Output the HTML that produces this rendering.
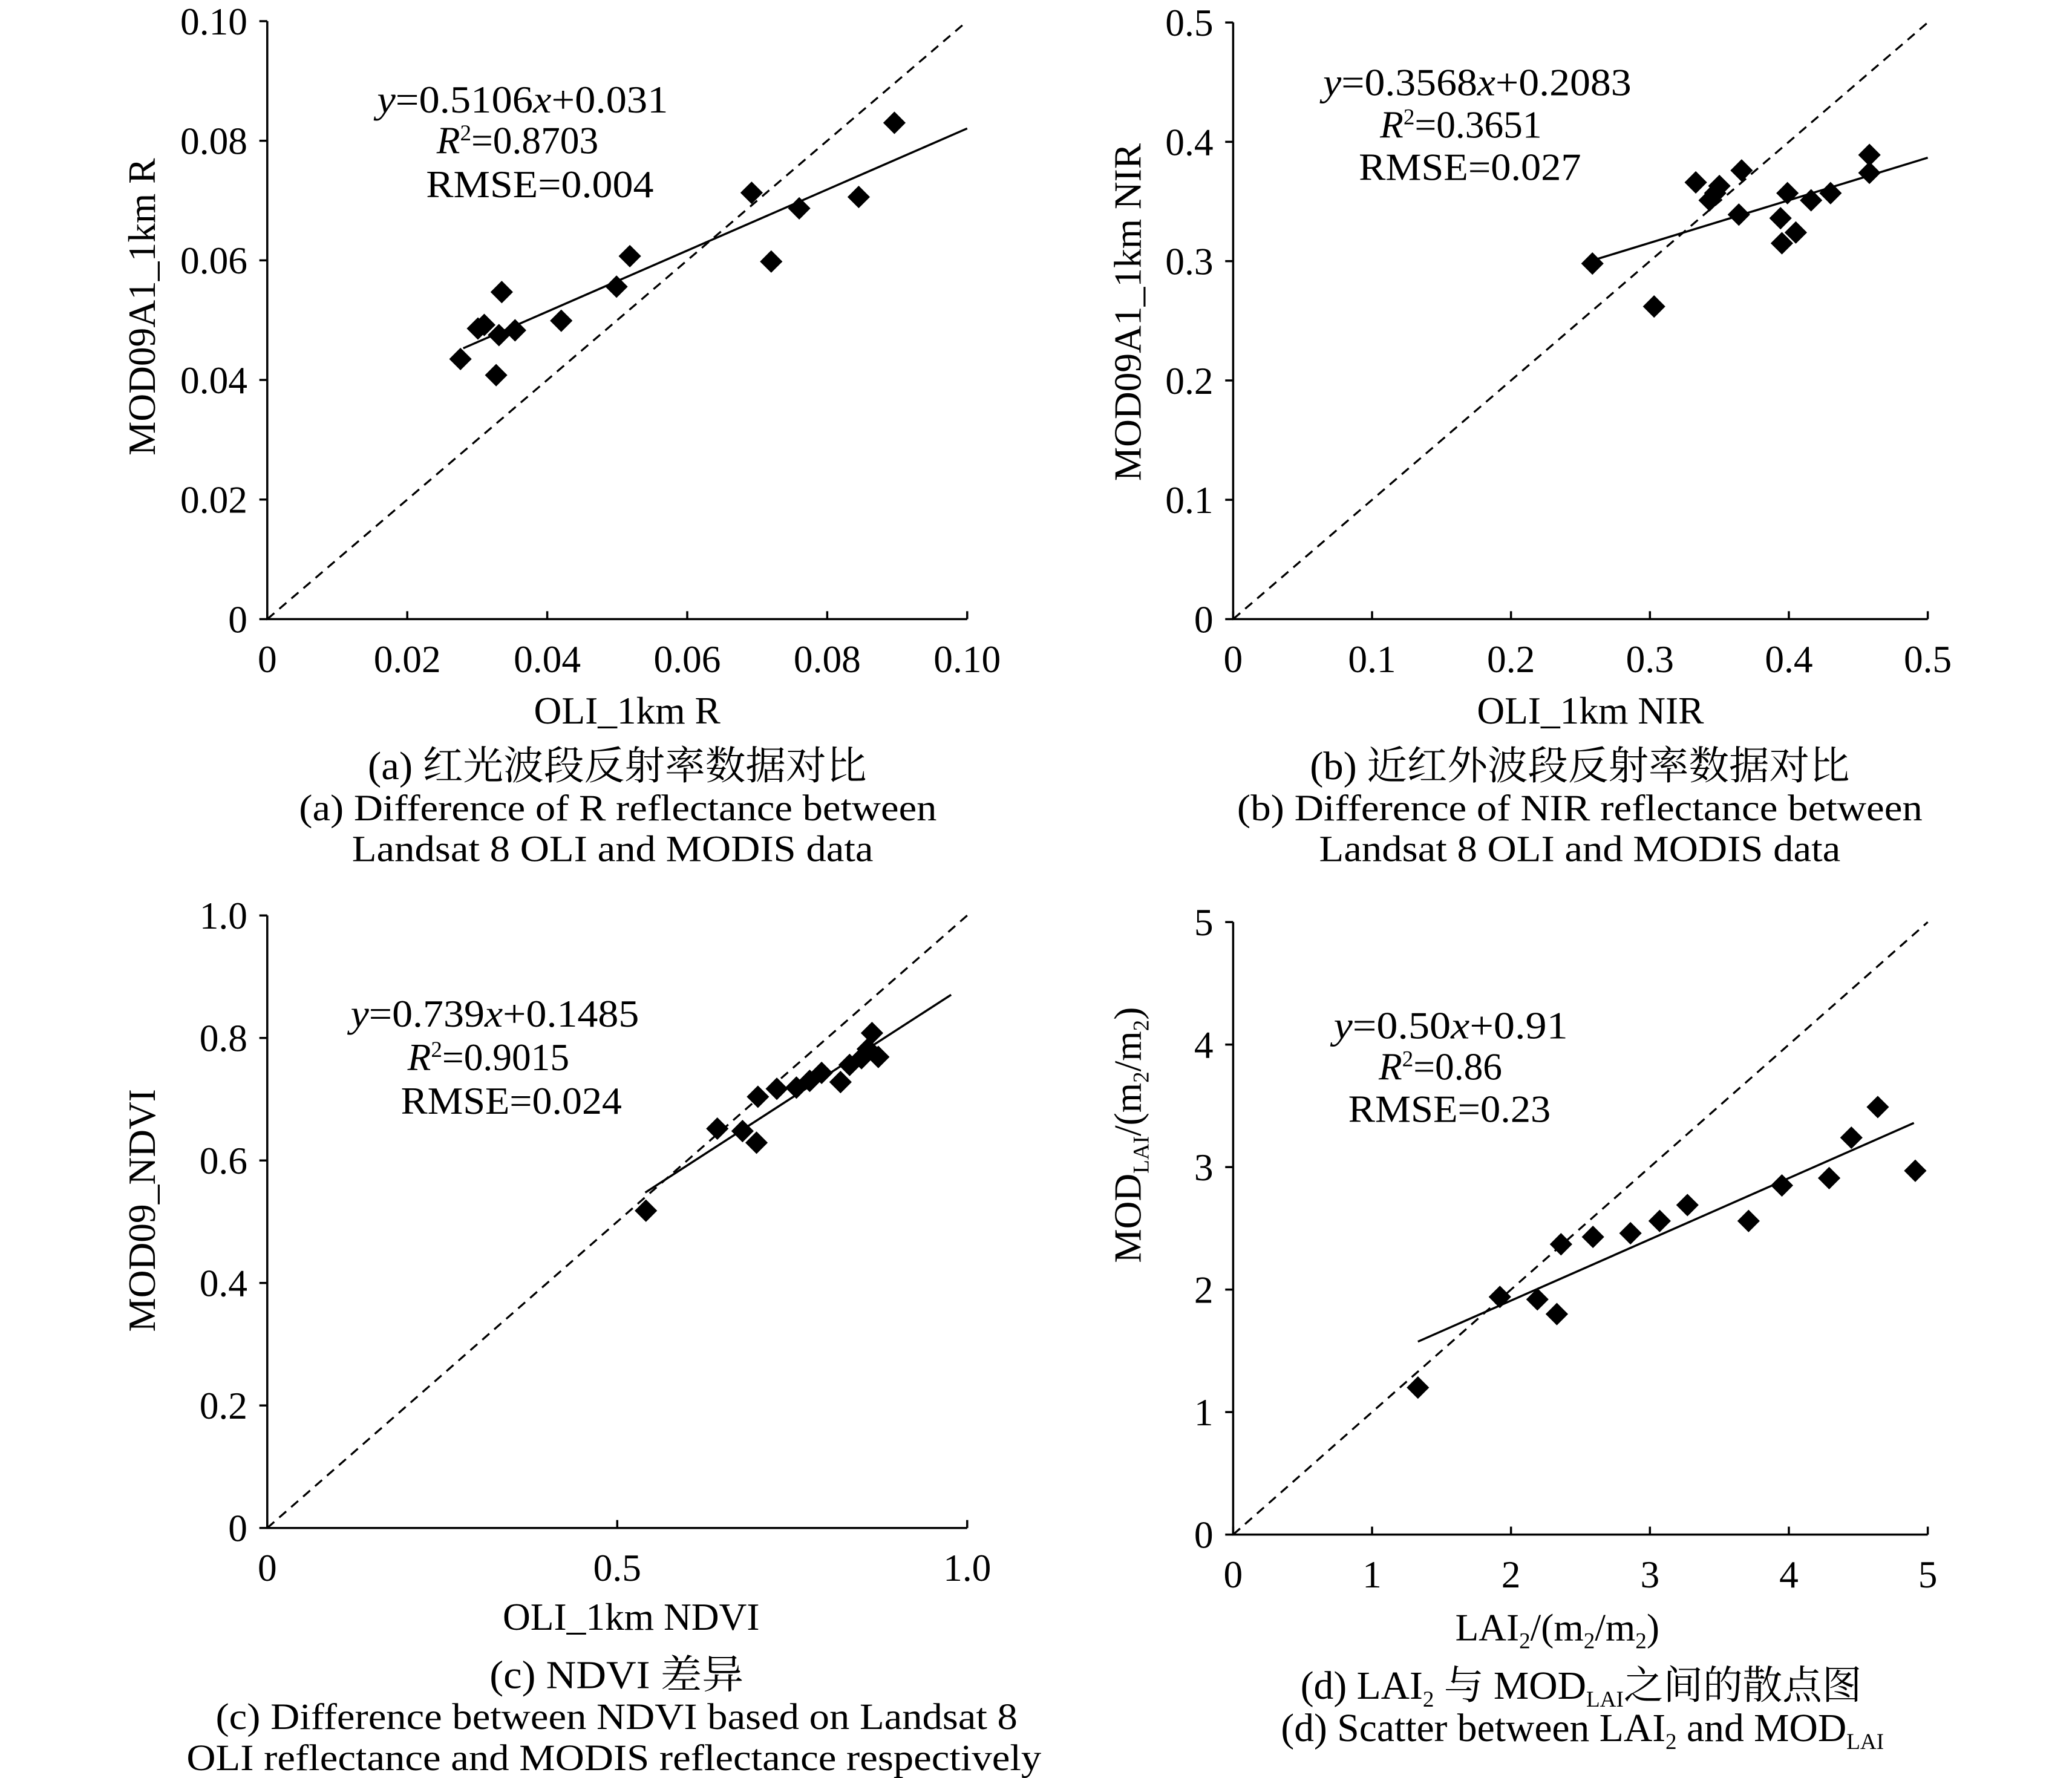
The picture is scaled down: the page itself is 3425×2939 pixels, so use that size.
<!DOCTYPE html>
<html><head><meta charset="utf-8">
<style>
html,body{margin:0;padding:0;background:#fff;}
svg{display:block;}
text{font-family:"Liberation Serif","Noto Serif CJK SC","Noto Sans CJK SC",serif;fill:#000;}
</style></head>
<body>
<svg id="fig" xmlns="http://www.w3.org/2000/svg" width="3425" height="2939" viewBox="0 0 1566 1344" preserveAspectRatio="none">
<rect width="1566" height="1344" fill="#fff"/>
</svg>
<script>
// Panel (a) data
const aX = [0.0276,0.0301,0.0310,0.0335,0.0331,0.0327,0.0354,0.0420,0.0499,0.0518,0.0692,0.0720,0.0760,0.0845,0.0896];
const aY = [0.0435,0.0486,0.0492,0.0547,0.0475,0.0408,0.0483,0.0499,0.0556,0.0607,0.0713,0.0598,0.0687,0.0706,0.0830];
const aFit = [0.5106,0.031];
const aFitRange = [0.028,0.10];
const aTicks = ["0","0.02","0.04","0.06","0.08","0.10"];
// Panel (b) data
const bX = [0.2586,0.303,0.333,0.343,0.347,0.350,0.364,0.366,0.394,0.395,0.399,0.405,0.416,0.430,0.458,0.458];
const bY = [0.298,0.262,0.366,0.351,0.357,0.363,0.339,0.376,0.336,0.315,0.357,0.324,0.351,0.357,0.374,0.389];
const bFit = [0.3568,0.2083];
const bFitRange = [0.258,0.50];
const bTicks = ["0","0.1","0.2","0.3","0.4","0.5"];
// Panel (c) data
const cX = [0.541,0.643,0.679,0.699,0.701,0.728,0.756,0.775,0.792,0.819,0.832,0.849,0.858,0.864,0.873];
const cY = [0.518,0.652,0.648,0.629,0.704,0.717,0.719,0.730,0.743,0.728,0.756,0.767,0.782,0.808,0.769];
const cFit = [0.739,0.1485];
const cFitRange = [0.54,0.977];
const cXTicks = ["0","0.5","1.0"];
const cYTicks = ["0","0.2","0.4","0.6","0.8","1.0"];
// Panel (d) data
const dX = [1.33,1.92,2.19,2.33,2.36,2.59,2.86,3.07,3.27,3.71,3.95,4.29,4.45,4.64,4.91];
const dY = [1.20,1.94,1.92,1.80,2.37,2.43,2.46,2.56,2.69,2.56,2.85,2.91,3.24,3.49,2.97];
const dFit = [0.50,0.91];
const dFitRange = [1.33,4.9];
const dTicks = ["0","1","2","3","4","5"];

const NS="http://www.w3.org/2000/svg";
const svg=document.getElementById('fig');
function mk(tag,attrs,parent){const e=document.createElementNS(NS,tag);for(const k in attrs)e.setAttribute(k,attrs[k]);(parent||svg).appendChild(e);return e;}

function panel(id,box,max,xT,yT,xs,ys,fit,fr){
  const g=mk('g',{});
  
  
  const sx=v=>box.x0+(v/max[0])*(box.x1-box.x0);
  const sy=v=>box.y0-(v/max[1])*(box.y0-box.y1);
  const ax=mk('path',{d:`M${box.x0},${box.y1} L${box.x0},${box.y0} L${box.x1},${box.y0}`,fill:'none',stroke:'#000','stroke-width':1.6},g);
  
  
  xT.forEach(t=>{const v=parseFloat(t);const x=sx(v);
    const tk=mk('line',{x1:x,x2:x,y1:box.y0,y2:box.y0-6,stroke:'#000','stroke-width':1.6},g);
    
    
    const tx=mk('text',{x:x,y:box.y0+40,'font-size':29,'text-anchor':'middle'},g);tx.textContent=t;
    
    
  });
  yT.forEach(t=>{const v=parseFloat(t);const y=sy(v);
    const tk=mk('line',{x1:box.x0-6,x2:box.x0,y1:y,y2:y,stroke:'#000','stroke-width':1.6},g);
    
    
    const tx=mk('text',{x:box.x0-15,y:y+10,'font-size':29,'text-anchor':'end'},g);tx.textContent=t;
    
    
  });
  const dl=mk('line',{x1:sx(0),y1:sy(0),x2:sx(max[0]),y2:sy(max[1]),stroke:'#000','stroke-width':1.5,'stroke-dasharray':'7,5'},g);
  
  
  const fl=mk('line',{x1:sx(fr[0]),y1:sy(fit[0]*fr[0]+fit[1]),x2:sx(fr[1]),y2:sy(fit[0]*fr[1]+fit[1]),stroke:'#000','stroke-width':1.6},g);
  
  
  xs.forEach((v,i)=>{const x=sx(v),y=sy(ys[i]);const r=8.5;
    const p=mk('path',{d:`M${x},${y-r} L${x+r},${y} L${x},${y+r} L${x-r},${y} Z`,fill:'#000'},g);
    
    
  });
}
panel('a',{x0:202,x1:731,y0:468,y1:16},[0.1,0.1],aTicks,aTicks,aX,aY,aFit,aFitRange);
panel('b',{x0:932,x1:1457,y0:468,y1:17},[0.5,0.5],bTicks,bTicks,bX,bY,bFit,bFitRange);
panel('c',{x0:202,x1:731,y0:1155,y1:692},[1,1],cXTicks,cYTicks,cX,cY,cFit,cFitRange);
panel('d',{x0:932,x1:1457,y0:1160,y1:697},[5,5],dTicks,dTicks,dX,dY,dFit,dFitRange);
</script>
<svg style="position:absolute;left:0;top:0" width="3425" height="2939" viewBox="0 0 1566 1344" preserveAspectRatio="none">
<g font-size="29">
<!-- panel a -->
<text x="285" y="85" textLength="220" lengthAdjust="spacingAndGlyphs"><tspan font-style="italic">y</tspan>=0.5106<tspan font-style="italic">x</tspan>+0.031</text>
<text x="330" y="116"><tspan font-style="italic">R</tspan><tspan font-size="17" dy="-10">2</tspan><tspan dy="10">=0.8703</tspan></text>
<text x="322" y="149" textLength="172" lengthAdjust="spacingAndGlyphs">RMSE=0.004</text>
<text transform="translate(117,232) rotate(-90)" text-anchor="middle">MOD09A1_1km R</text>
<text x="474" y="547" text-anchor="middle">OLI_1km R</text>
<text x="278" y="589" font-size="30" textLength="377" lengthAdjust="spacingAndGlyphs">(a) 红光波段反射率数据对比</text>
<text x="467" y="620" text-anchor="middle" font-size="28" textLength="482" lengthAdjust="spacingAndGlyphs">(a) Difference of R reflectance between</text>
<text x="463" y="651" text-anchor="middle" font-size="28" textLength="394" lengthAdjust="spacingAndGlyphs">Landsat 8 OLI and MODIS data</text>
<!-- panel b -->
<text x="1000" y="72" textLength="233" lengthAdjust="spacingAndGlyphs"><tspan font-style="italic">y</tspan>=0.3568<tspan font-style="italic">x</tspan>+0.2083</text>
<text x="1043" y="104"><tspan font-style="italic">R</tspan><tspan font-size="17" dy="-10">2</tspan><tspan dy="10">=0.3651</tspan></text>
<text x="1027" y="136" textLength="168" lengthAdjust="spacingAndGlyphs">RMSE=0.027</text>
<text transform="translate(862,236) rotate(-90)" text-anchor="middle">MOD09A1_1km NIR</text>
<text x="1202" y="547" text-anchor="middle">OLI_1km NIR</text>
<text x="990" y="589" font-size="30" textLength="408" lengthAdjust="spacingAndGlyphs">(b) 近红外波段反射率数据对比</text>
<text x="1194" y="620" text-anchor="middle" font-size="28" textLength="518" lengthAdjust="spacingAndGlyphs">(b) Difference of NIR reflectance between</text>
<text x="1194" y="651" text-anchor="middle" font-size="28" textLength="394" lengthAdjust="spacingAndGlyphs">Landsat 8 OLI and MODIS data</text>
<!-- panel c -->
<text x="265" y="776" textLength="218" lengthAdjust="spacingAndGlyphs"><tspan font-style="italic">y</tspan>=0.739<tspan font-style="italic">x</tspan>+0.1485</text>
<text x="308" y="809"><tspan font-style="italic">R</tspan><tspan font-size="17" dy="-10">2</tspan><tspan dy="10">=0.9015</tspan></text>
<text x="303" y="842" textLength="167" lengthAdjust="spacingAndGlyphs">RMSE=0.024</text>
<text transform="translate(117,915) rotate(-90)" text-anchor="middle">MOD09_NDVI</text>
<text x="477" y="1232" text-anchor="middle">OLI_1km NDVI</text>
<text x="370" y="1276" font-size="30" textLength="192" lengthAdjust="spacingAndGlyphs">(c) NDVI  差异</text>
<text x="466" y="1307" text-anchor="middle" font-size="28" textLength="606" lengthAdjust="spacingAndGlyphs">(c) Difference between NDVI based on Landsat 8</text>
<text x="464" y="1338" text-anchor="middle" font-size="28" textLength="646" lengthAdjust="spacingAndGlyphs">OLI reflectance and MODIS reflectance respectively</text>
<!-- panel d -->
<text x="1008" y="785" textLength="177" lengthAdjust="spacingAndGlyphs"><tspan font-style="italic">y</tspan>=0.50<tspan font-style="italic">x</tspan>+0.91</text>
<text x="1042" y="816"><tspan font-style="italic">R</tspan><tspan font-size="17" dy="-10">2</tspan><tspan dy="10">=0.86</tspan></text>
<text x="1019" y="848" textLength="153" lengthAdjust="spacingAndGlyphs">RMSE=0.23</text>
<text transform="translate(862,858) rotate(-90)" text-anchor="middle">MOD<tspan font-size="17" dy="6">LAI</tspan><tspan dy="-6">/(m</tspan><tspan font-size="17" dy="6">2</tspan><tspan dy="-6">/m</tspan><tspan font-size="17" dy="6">2</tspan><tspan dy="-6">)</tspan></text>
<text x="1177" y="1240" text-anchor="middle">LAI<tspan font-size="17" dy="6">2</tspan><tspan dy="-6">/(m</tspan><tspan font-size="17" dy="6">2</tspan><tspan dy="-6">/m</tspan><tspan font-size="17" dy="6">2</tspan><tspan dy="-6">)</tspan></text>
<text x="1195" y="1284" text-anchor="middle" font-size="30">(d) LAI<tspan font-size="17" dy="6">2</tspan><tspan dy="-6"> 与 MOD</tspan><tspan font-size="17" dy="6">LAI</tspan><tspan dy="-6">之间的散点图</tspan></text>
<text x="1196" y="1316" text-anchor="middle" font-size="30">(d) Scatter between LAI<tspan font-size="17" dy="6">2</tspan><tspan dy="-6"> and MOD</tspan><tspan font-size="17" dy="6">LAI</tspan></text>
</g>
</svg>
</body></html>
